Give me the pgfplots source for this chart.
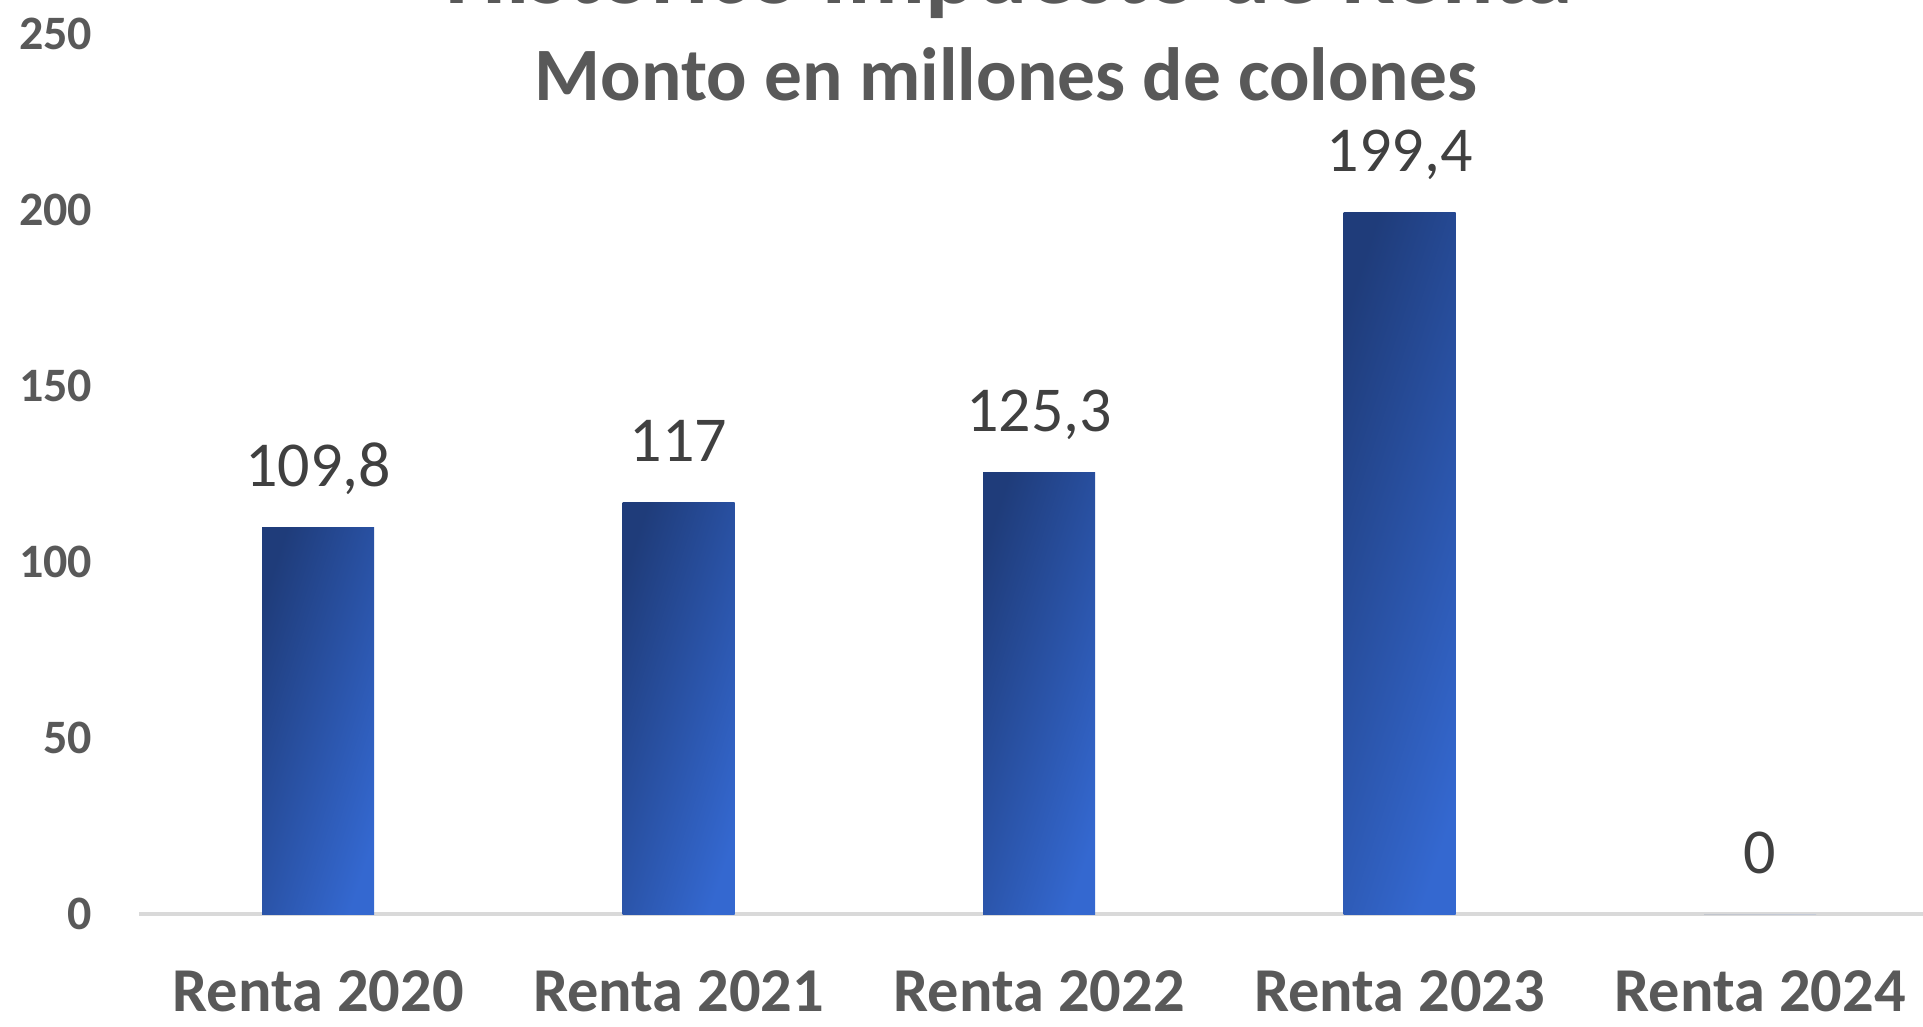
\documentclass[border=0pt]{standalone}
\usepackage{fontspec}
\setmainfont{Carlito}
\usepackage{pgfplots}
\pgfplotsset{compat=1.18}

\definecolor{bardark}{RGB}{31,60,122}
\definecolor{barlight}{RGB}{52,104,208}
\definecolor{txtgray}{RGB}{89,89,89}
\definecolor{valgray}{RGB}{64,64,64}
\definecolor{axgray}{RGB}{217,217,217}

\pgfplotsset{
  renta bar/.style={draw=none, left color=bardark, right color=barlight, shading angle=72, bar shift=0pt},
}

\begin{document}
\begin{tikzpicture}
\useasboundingbox (-34.75pt,-28pt) rectangle (446pt,228.5pt);
\begin{axis}[
    at={(0,0)}, anchor=south west,
    scale only axis,
    width=446pt, height=220pt,
    xmin=-0.497, xmax=4.452,
    ymin=0, ymax=250,
    xtick={0,1,2,3,4},
    xticklabels={Renta 2020,Renta 2021,Renta 2022,Renta 2023,Renta 2024},
    axis y line=none,
    axis x line*=bottom,
    x axis line style={axgray, line width=0.8pt, -},
    xtick style={draw=none},
    ybar, bar width=28pt,
    xticklabel style={font=\fontsize{15.6}{18}\selectfont\bfseries, text=txtgray, anchor=base, inner sep=0pt, yshift=-20pt},
    nodes near coords,
    nodes near coords style={font=\fontsize{16}{19}\selectfont, text=valgray, anchor=base, yshift=10.25pt},
    point meta=explicit symbolic,
]
\addplot[renta bar] coordinates {(0,109.8) [109,8]};
\addplot[renta bar] coordinates {(1,117) [117]};
\addplot[renta bar] coordinates {(2,125.3) [125,3]};
\addplot[renta bar] coordinates {(3,199.4) [199,4]};
\addplot[renta bar] coordinates {(4,0) [0]};
\end{axis}
\begin{axis}[
    at={(0,0)}, anchor=south west,
    scale only axis,
    width=446pt, height=220pt,
    xmin=-0.497, xmax=4.452,
    ymin=0, ymax=250,
    ytick={0,50,...,250},
    axis x line=none,
    axis y line*=left,
    y axis line style={draw=none},
    ytick style={draw=none},
    yticklabel style={font=\fontsize{12}{14}\selectfont\bfseries, text=txtgray, anchor=east, inner sep=0pt, xshift=-11.5pt},
    /pgf/number format/assume math mode=true,
]
\addplot[draw=none] coordinates {(0,0)};
\end{axis}
\node[font=\fontsize{24}{28}\selectfont\bfseries, text=txtgray, anchor=base] at (217.5pt,227.6pt) {Histórico Impuesto de Renta};
\node[font=\fontsize{18.85}{22}\selectfont\bfseries, text=txtgray, anchor=base] at (216.75pt,203.25pt) {Monto en millones de colones};
\end{tikzpicture}
\end{document}
